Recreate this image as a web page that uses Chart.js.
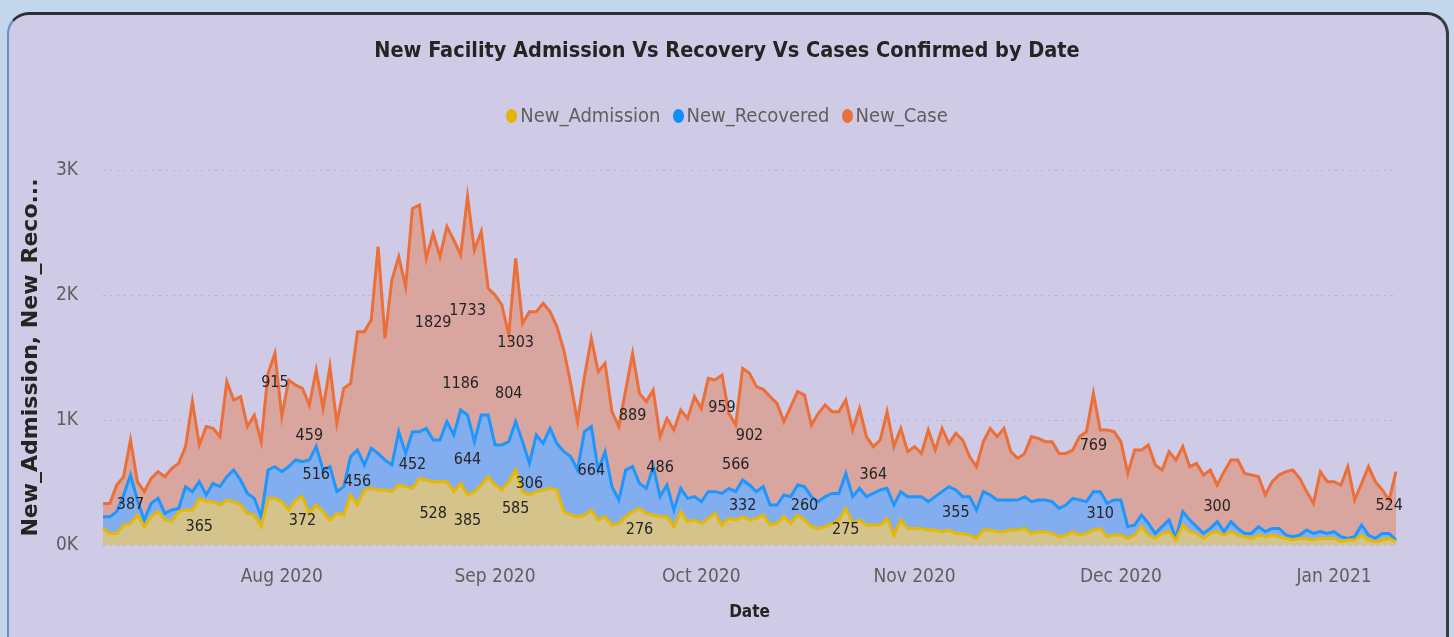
<!DOCTYPE html>
<html>
<head>
<meta charset="utf-8">
<title>New Facility Admission Vs Recovery Vs Cases Confirmed by Date</title>
<script src="https://cdn.jsdelivr.net/npm/chart.js@4.4.1/dist/chart.umd.min.js"></script>
<style>
    html, body { margin: 0; padding: 0; width: 1454px; height: 637px; overflow: hidden; background: #c2d7ec; }
    .card {
        position: absolute; left: 7px; top: 12px; width: 1442px; height: 640px;
        box-sizing: border-box; background: #cfcbe6;
        border-top: 3px solid #2e2e33; border-right: 3px solid #3a3a40; border-left: 2px solid #6d8ec4;
        border-radius: 22px 22px 0 0;
    }
    #chart { position: absolute; left: 0; top: 0; }
    .title {
        position: absolute; left: 0; top: 36px; width: 1454px; text-align: center;
        font: bold 21.5px 'DejaVu Sans Condensed', 'DejaVu Sans', sans-serif; line-height: 28px; color: #252423;
    }
    .legend {
        position: absolute; left: 0; top: 103px; width: 1454px; display: flex; justify-content: center; gap: 12px;
        font: 20px 'DejaVu Sans Condensed', 'DejaVu Sans', sans-serif; line-height: 24px; color: #605e5c;
    }
    .legend .dot { display: inline-block; width: 11px; height: 14px; border-radius: 50%; margin-right: 3px; vertical-align: -1px; }
</style>
</head>
<body>
<div class="card"></div>
<canvas id="chart" width="1454" height="637"></canvas>
<div class="title">New Facility Admission Vs Recovery Vs Cases Confirmed by Date</div>
<div class="legend" id="legend"></div>

<script>
// Días: 6 jul 2020 -> 10 ene 2021
const startDate = Date.UTC(2020, 6, 6);
const dates = [];
for (let i = 0; i < 189; i++) {
    dates.push(new Date(startDate + i * 86400000).toISOString().slice(0, 10));
}

const tickDates = ['2020-08-01', '2020-09-01', '2020-10-01', '2020-11-01', '2020-12-01', '2021-01-01'];
const tickLabels = ['Aug 2020', 'Sep 2020', 'Oct 2020', 'Nov 2020', 'Dec 2020', 'Jan 2021'];

const newAdmission = [
    133, 93, 93, 160, 173, 240, 147, 227, 267, 200,
    187, 267, 280, 280, 373, 347, 347, 320, 360, 347,
    320, 253, 240, 147, 373, 373, 347, 280, 360, 387,
    253, 320, 267, 200, 253, 240, 400, 320, 440, 453,
    440, 440, 427, 480, 467, 453, 533, 520, 507, 507,
    507, 427, 493, 400, 427, 480, 547, 480, 440, 507,
    600, 427, 400, 427, 440, 453, 440, 267, 240, 227,
    240, 280, 200, 227, 160, 173, 227, 267, 293, 253,
    240, 227, 227, 147, 267, 187, 200, 173, 213, 253,
    160, 213, 200, 227, 200, 213, 240, 160, 173, 227,
    173, 240, 200, 147, 133, 147, 173, 200, 293, 173,
    200, 160, 160, 160, 213, 80, 200, 133, 133, 133,
    120, 120, 107, 120, 93, 93, 80, 53, 120, 120,
    107, 107, 120, 120, 133, 93, 107, 107, 93, 67,
    80, 107, 80, 93, 120, 133, 67, 80, 80, 53,
    80, 147, 80, 53, 93, 107, 40, 160, 107, 93,
    53, 93, 107, 80, 107, 80, 67, 53, 80, 67,
    80, 67, 53, 40, 53, 53, 40, 53, 53, 53,
    27, 40, 40, 80, 40, 27, 40, 53, 27
];

const newRecovered = [
    227, 227, 267, 400, 560, 360, 200, 333, 373, 253,
    280, 293, 467, 427, 507, 400, 493, 467, 547, 600,
    520, 413, 373, 227, 600, 627, 587, 627, 680, 667,
    680, 787, 600, 627, 427, 467, 707, 760, 640, 773,
    733, 680, 640, 907, 733, 907, 907, 933, 840, 840,
    987, 880, 1080, 1040, 827, 1040, 1040, 800, 800, 827,
    987, 827, 653, 880, 813, 933, 813, 747, 707, 600,
    907, 947, 600, 747, 467, 360, 600, 627, 493, 453,
    627, 387, 480, 280, 453, 373, 387, 347, 427, 427,
    413, 453, 427, 520, 480, 427, 467, 320, 320, 400,
    387, 480, 467, 387, 347, 387, 413, 413, 573, 387,
    453, 387, 413, 440, 453, 320, 427, 387, 387, 387,
    347, 387, 427, 467, 440, 387, 387, 280, 427, 400,
    360, 360, 360, 360, 387, 347, 360, 360, 347, 293,
    320, 373, 360, 347, 427, 427, 333, 360, 360, 147,
    160, 240, 173, 93, 147, 200, 53, 267, 200, 147,
    93, 133, 187, 107, 187, 133, 93, 93, 147, 107,
    133, 133, 80, 67, 80, 120, 93, 107, 93, 107,
    67, 53, 67, 160, 80, 53, 93, 93, 40
];

const newCase = [
    333, 333, 480, 547, 840, 507, 427, 533, 587, 547,
    613, 653, 787, 1147, 800, 947, 933, 867, 1307, 1160,
    1187, 947, 1040, 827, 1373, 1533, 1027, 1320, 1280, 1253,
    1120, 1400, 1093, 1427, 973, 1253, 1293, 1707, 1707, 1800,
    2387, 1653, 2120, 2307, 2067, 2693, 2720, 2293, 2493, 2307,
    2547, 2440, 2320, 2787, 2360, 2507, 2053, 2000, 1920, 1680,
    2293, 1773, 1867, 1867, 1933, 1867, 1747, 1560, 1293, 987,
    1347, 1653, 1387, 1453, 1067, 947, 1240, 1533, 1213, 1147,
    1240, 867, 1013, 920, 1080, 1013, 1187, 1093, 1333, 1320,
    1360, 1053, 960, 1413, 1373, 1267, 1245, 1187, 1133, 987,
    1107, 1227, 1200, 960, 1053, 1120, 1067, 1067, 1160, 920,
    1093, 867, 787, 840, 1067, 787, 933, 747, 787, 733,
    920, 760, 933, 813, 893, 840, 707, 627, 827, 933,
    867, 933, 747, 693, 733, 867, 853, 827, 827, 733,
    733, 760, 867, 907, 1213, 920, 920, 907, 827, 573,
    760, 760, 800, 640, 600, 747, 680, 787, 627, 653,
    560, 600, 480, 587, 680, 680, 573, 560, 547, 400,
    507, 560, 587, 600, 533, 427, 333, 587, 507, 507,
    480, 627, 360, 493, 627, 507, 440, 360, 587
];

// Etiquetas de datos tal como aparecen (día, altura en unidades del eje, texto)
const labelDay =   [4, 14, 25, 30, 31, 29, 37, 45, 48, 48, 53, 52, 53, 53, 59, 60, 62, 60, 71, 77, 81, 78, 90, 94, 92, 93, 102, 108, 112, 124, 144, 145, 162, 187];
const labelValue = [320, 144, 1296, 872, 560, 192, 504, 640, 248, 1776, 1872, 1288, 680, 192, 1208, 1616, 488, 288, 592, 1032, 616, 120, 1096, 872, 640, 312, 312, 120, 560, 256, 792, 248, 304, 312];
const labelText =  ['387', '365', '915', '459', '516', '372', '456', '452', '528', '1829', '1733', '1186', '644', '385', '804', '1303', '306', '585', '664', '889', '486', '276', '959', '902', '566', '332', '260', '275', '364', '355', '769', '310', '300', '524'];

const condensed = "'DejaVu Sans Condensed', 'DejaVu Sans', sans-serif";

const seriesNames = ['New_Admission', 'New_Recovered', 'New_Case'];
const lineColors = ['#e6b800', '#1e96ff', '#ec6f37'];
const areaColors = ['#d4c38b', '#82aef0', '#d8a59f'];
const legendColors = ['#e3b505', '#118dff', '#e8703a'];

const dataLabels = {
    id: 'dataLabels',
    afterDatasetsDraw(chart) {
        const { ctx, scales: { x, y } } = chart;
        ctx.save();
        ctx.font = '16px ' + condensed;
        ctx.fillStyle = '#252423';
        ctx.textAlign = 'center';
        ctx.textBaseline = 'middle';
        for (let i = 0; i < labelText.length; i++) {
            ctx.fillText(labelText[i], x.getPixelForValue(labelDay[i]), y.getPixelForValue(labelValue[i]));
        }
        ctx.restore();
    }
};

function makeDataset(i, values) {
    return {
        label: seriesNames[i],
        data: values,
        borderColor: lineColors[i],
        backgroundColor: areaColors[i],
        fill: 'origin',
        borderWidth: 3,
        pointRadius: 0,
        tension: 0
    };
}

const chart = new Chart(document.getElementById('chart').getContext('2d'), {
    type: 'line',
    data: {
        labels: dates,
        datasets: [
            makeDataset(0, newAdmission),
            makeDataset(1, newRecovered),
            makeDataset(2, newCase)
        ]
    },
    plugins: [dataLabels],
    options: {
        responsive: false,
        animation: false,
        layout: { padding: { top: 170, left: 10, right: 58, bottom: 0 } },
        plugins: {
            legend: { display: false },
            title: { display: false },
            tooltip: { enabled: false }
        },
        scales: {
            x: {
                grid: { display: false, drawTicks: false },
                border: { display: false },
                ticks: {
                    autoSkip: false,
                    maxRotation: 0,
                    padding: 21,
                    color: '#605e5c',
                    font: { family: condensed, size: 19 },
                    callback: function(value) {
                        const pos = tickDates.indexOf(dates[value]);
                        return pos >= 0 ? tickLabels[pos] : '';
                    }
                },
                title: {
                    display: true,
                    text: 'Date',
                    color: '#252423',
                    font: { family: condensed, size: 17, weight: 'bold' },
                    padding: { top: 0, bottom: 14 }
                },
                afterFit(scale) { scale.height = 92; }
            },
            y: {
                min: 0,
                max: 3000,
                grid: { color: 'rgba(140, 136, 175, 0.4)', drawTicks: false },
                border: { display: false, dash: [2, 5] },
                ticks: {
                    stepSize: 1000,
                    padding: 25,
                    color: '#605e5c',
                    font: { family: condensed, size: 19 },
                    callback: function(value) {
                        return (value / 1000) + 'K';
                    }
                },
                title: {
                    display: true,
                    text: 'New_Admission, New_Reco...',
                    color: '#252423',
                    font: { family: "'DejaVu Sans', sans-serif", size: 22, weight: 'bold' },
                    padding: { top: 8, bottom: 0 }
                },
                afterFit(scale) { scale.width = 93; }
            }
        }
    }
});

// Leyenda
const legend = document.getElementById('legend');
seriesNames.forEach(function(name, i) {
    const item = document.createElement('span');
    const dot = document.createElement('span');
    dot.className = 'dot';
    dot.style.background = legendColors[i];
    item.appendChild(dot);
    item.appendChild(document.createTextNode(name));
    legend.appendChild(item);
});
</script>
</body>
</html>
